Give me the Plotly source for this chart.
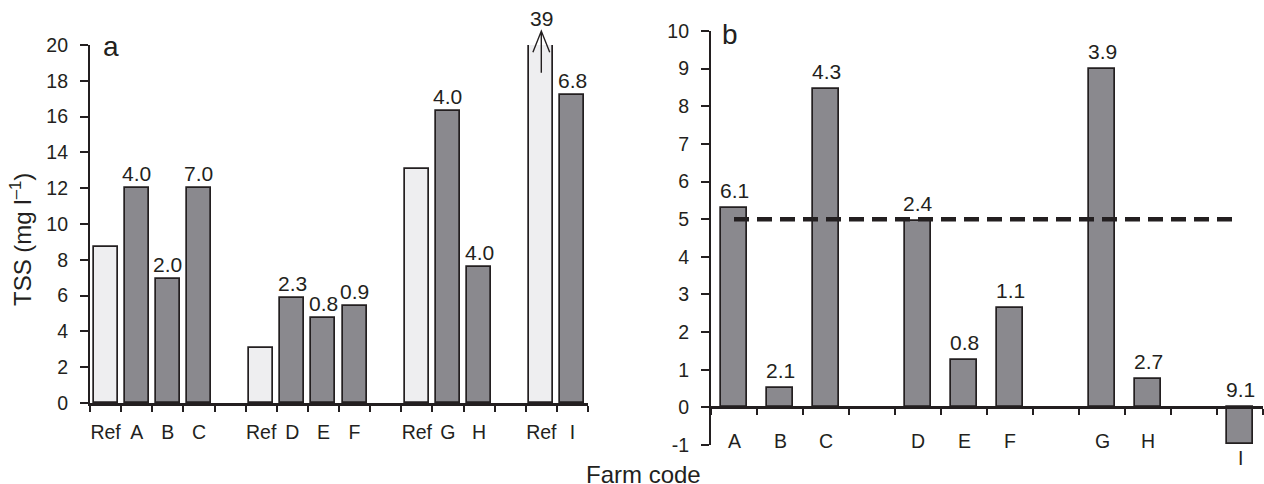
import plotly.graph_objects as go

# ---------------- data ----------------
# Panel a: TSS (mg l-1) per farm and reference site ("" = gap between groups)
cats_a = ["Ref", "A", "B", "C", "", "Ref", "D", "E", "F", "", "Ref", "G", "H", "", "Ref", "I"]
tss_a = [8.7, 12.0, 6.9, 12.0, None, 3.1, 5.85, 4.75, 5.4, None, 13.1, 16.3, 7.6, None, 39, 17.2]
labels_a = ["", "4.0", "2.0", "7.0", "", "", "2.3", "0.8", "0.9", "", "", "4.0", "4.0", "", "39", "6.8"]

# Panel b
cats_b = ["A", "B", "C", "", "D", "E", "F", "", "G", "H", "", "I"]
vals_b = [5.3, 0.52, 8.45, None, 4.95, 1.25, 2.65, None, 9.0, 0.75, None, -0.98]
labels_b = ["6.1", "2.1", "4.3", "", "2.4", "0.8", "1.1", "", "3.9", "2.7", "", "9.1"]
threshold_b = 5

yticks_a = list(range(0, 21, 2))
yticks_b = list(range(-1, 11))

# ---------------- style ----------------
W, H = 1264, 484
TXT = "#231f20"
DARK = "#8a898e"
LIGHT = "#eeeef0"
FONT = "Liberation Sans"
FS = 19.5      # tick labels
FV = 21        # value labels
FT = 24        # axis titles

def px_x(p):
    return p / W

def px_y(p):
    return 1 - p / H

dom_xa = [px_x(90), px_x(588)]
dom_ya = [px_y(403), px_y(45)]
dom_xb = [px_x(711), px_x(1263)]
dom_yb = [px_y(445), px_y(31)]
ya_range = [0, 20]
yb_range = [-1, 10]

def ya_to_paper(v):
    return dom_ya[0] + (v - ya_range[0]) / (ya_range[1] - ya_range[0]) * (dom_ya[1] - dom_ya[0])

fig = go.Figure()

xa = list(range(len(cats_a)))
xb = list(range(len(cats_b)))

# panel a bars
fig.add_trace(go.Bar(
    x=xa, y=tss_a, xaxis="x", yaxis="y", width=0.77,
    marker=dict(color=[LIGHT if c == "Ref" else DARK for c in cats_a],
                line=dict(color=TXT, width=1.7)),
    showlegend=False, hoverinfo="skip"))

# panel b bars
fig.add_trace(go.Bar(
    x=xb, y=vals_b, xaxis="x2", yaxis="y2", width=0.58,
    marker=dict(color=DARK, line=dict(color=TXT, width=1.7)),
    showlegend=False, hoverinfo="skip"))

# threshold dashed line in panel b
bar_idx_b = [i for i, v in enumerate(vals_b) if v is not None]
fig.add_trace(go.Scatter(
    x=[bar_idx_b[0], bar_idx_b[-1]], y=[threshold_b, threshold_b],
    xaxis="x2", yaxis="y2", mode="lines",
    line=dict(color=TXT, width=4.5, dash="15px,8px"),
    showlegend=False, hoverinfo="skip"))

annotations = []
shapes = []
# value labels panel a
for i, (v, t) in enumerate(zip(tss_a, labels_a)):
    if v is None or not t:
        continue
    if v > ya_range[1]:
        # off-scale bar: open arrow and the value above the axis top
        tip = ya_to_paper(ya_range[1] + 0.78)
        tail = ya_to_paper(ya_range[1] - 1.55)
        arm = ya_to_paper(ya_range[1] - 0.4)
        dx = 0.27
        shapes.append(dict(type="path", xref="x", yref="paper",
                           path=f"M{i},{tail} L{i},{tip} M{i - dx},{arm} L{i},{tip} L{i + dx},{arm}",
                           line=dict(color=TXT, width=1.4)))
        annotations.append(dict(x=i, y=ya_range[1], xref="x", yref="y", text=t,
                                showarrow=False, yanchor="bottom", yshift=13,
                                font=dict(size=FV, color=TXT, family=FONT)))
    else:
        annotations.append(dict(x=i, y=v, xref="x", yref="y", text=t,
                                showarrow=False, yanchor="bottom", yshift=1,
                                font=dict(size=FV, color=TXT, family=FONT)))

# value labels + category labels panel b
for i, (v, t, c) in enumerate(zip(vals_b, labels_b, cats_b)):
    if v is None:
        continue
    annotations.append(dict(x=i, y=max(v, 0), xref="x2", yref="y2", text=t,
                            showarrow=False, yanchor="bottom", yshift=4,
                            font=dict(size=FV, color=TXT, family=FONT)))
    annotations.append(dict(x=i, y=min(v, 0), xref="x2", yref="y2", text=c,
                            showarrow=False, yanchor="top",
                            yshift=-1 if v < 0 else -21,
                            font=dict(size=FS, color=TXT, family=FONT)))

# panel letters
annotations.append(dict(x=px_x(101), y=px_y(64), xref="paper", yref="paper", text="a",
                        showarrow=False, xanchor="left", yanchor="bottom",
                        font=dict(size=28, color=TXT, family=FONT)))
annotations.append(dict(x=px_x(720), y=px_y(52), xref="paper", yref="paper", text="b",
                        showarrow=False, xanchor="left", yanchor="bottom",
                        font=dict(size=28, color=TXT, family=FONT)))
# axis titles
annotations.append(dict(x=px_x(21), y=px_y(240), xref="paper", yref="paper",
                        xanchor="center", yanchor="middle",
                        text="TSS (mg l<sup>–1</sup>)", textangle=-90, showarrow=False,
                        font=dict(size=FT, color=TXT, family=FONT)))
annotations.append(dict(x=px_x(643), y=px_y(459), xref="paper", yref="paper",
                        xanchor="center", yanchor="top",
                        text="Farm code", showarrow=False,
                        font=dict(size=FT, color=TXT, family=FONT)))

axis_common = dict(showgrid=False, zeroline=False, showline=True, linecolor=TXT,
                   tickcolor=TXT, tickfont=dict(size=FS, color=TXT, family=FONT),
                   automargin=False)

pos_b = dom_yb[0] + (dom_yb[1] - dom_yb[0]) * (0 - yb_range[0]) / (yb_range[1] - yb_range[0])

fig.update_layout(
    width=W, height=H, margin=dict(l=0, r=0, t=0, b=0),
    paper_bgcolor="white", plot_bgcolor="rgba(0,0,0,0)",
    bargap=0, showlegend=False,
    font=dict(family=FONT, color=TXT, size=FS),
    xaxis=dict(domain=dom_xa, anchor="y", range=[-0.5, len(cats_a) - 0.5],
               tickmode="array",
               tickvals=[i for i, c in enumerate(cats_a) if c],
               ticktext=[c for c in cats_a if c],
               ticks="", linewidth=2.5, ticklabelstandoff=10,
               minor=dict(tickmode="array",
                          tickvals=[i - 0.5 for i in range(len(cats_a) + 1)],
                          ticks="outside", ticklen=6, tickwidth=2, tickcolor=TXT),
               **axis_common),
    yaxis=dict(domain=dom_ya, anchor="x", range=ya_range, tickmode="array",
               tickvals=yticks_a, ticktext=[str(v) for v in yticks_a],
               ticks="outside", ticklen=8, tickwidth=2, linewidth=2.2,
               ticklabelstandoff=8, **axis_common),
    xaxis2=dict(domain=dom_xb, anchor="free", position=pos_b,
                range=[-0.5, len(cats_b) - 0.5], showticklabels=False,
                tickmode="array", tickvals=[], ticks="", linewidth=2.5,
                minor=dict(tickmode="array",
                           tickvals=[i - 0.5 for i in range(len(cats_b) + 1)],
                           ticks="outside", ticklen=6, tickwidth=2, tickcolor=TXT),
                **axis_common),
    yaxis2=dict(domain=dom_yb, anchor="x2", range=yb_range, tickmode="array",
                tickvals=yticks_b, ticktext=[str(v) for v in yticks_b],
                ticks="outside", ticklen=8, tickwidth=2, linewidth=2.2,
                ticklabelstandoff=8, **axis_common),
    annotations=annotations,
    shapes=shapes,
)

fig.write_html("out.html")
